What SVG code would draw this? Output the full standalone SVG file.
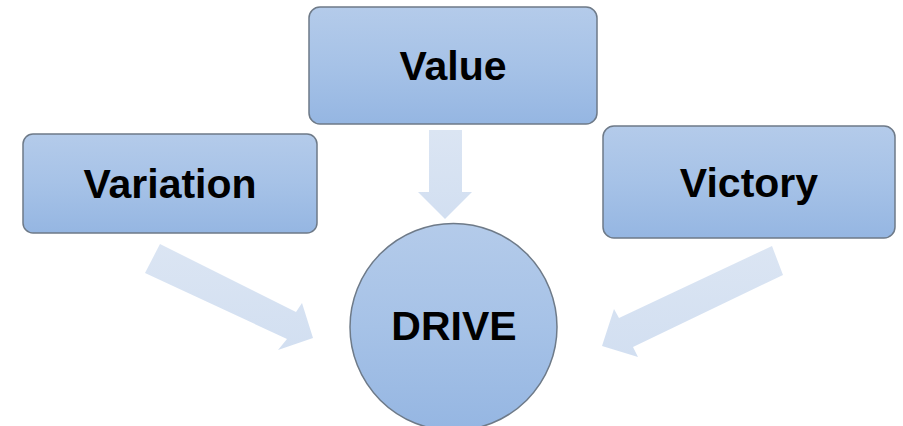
<svg xmlns="http://www.w3.org/2000/svg" width="903" height="426" viewBox="0 0 903 426">
<defs>
<linearGradient id="boxGrad" x1="0" y1="0" x2="0" y2="1">
<stop offset="0" stop-color="#b4cbea"/>
<stop offset="0.5" stop-color="#a6c2e7"/>
<stop offset="1" stop-color="#95b6e2"/>
</linearGradient>
<linearGradient id="arrowGrad" x1="0" y1="0" x2="0" y2="1">
<stop offset="0" stop-color="#dbe5f3"/>
<stop offset="1" stop-color="#d2dff1"/>
</linearGradient>
<style>
.box{fill:url(#boxGrad);stroke:#6e7a88;stroke-width:1.5;}
.arrow{fill:url(#arrowGrad);stroke:none;}
.label{font-family:"Liberation Sans",Arial,sans-serif;font-weight:bold;font-size:41px;fill:#000;text-anchor:middle;}
</style>
</defs>
<rect width="903" height="426" fill="#fff"/>
<g id="connectors">
<polygon class="arrow" points="429,130 462,130 462,192 472,192 445,219 418,192 429,192"/>
<polygon class="arrow" points="160,244 296,312 302,303 313,338 278,350 287,339 145,273"/>
<polygon class="arrow" points="772,246 783,275 633,347 638,357 602,346 614,309 619,318"/>
</g>
<g id="node-value">
<rect class="box" x="309" y="7" width="288" height="117" rx="11"/>
<text class="label" x="453" y="80">Value</text>
</g>
<g id="node-variation">
<rect class="box" x="23" y="134" width="294" height="99" rx="10"/>
<text class="label" x="170" y="198">Variation</text>
</g>
<g id="node-victory">
<rect class="box" x="603" y="126" width="292" height="112" rx="11"/>
<text class="label" x="749" y="197">Victory</text>
</g>
<g id="node-drive">
<circle class="box" cx="453.5" cy="327" r="103.5"/>
<text class="label" x="454" y="340">DRIVE</text>
</g>
</svg>
